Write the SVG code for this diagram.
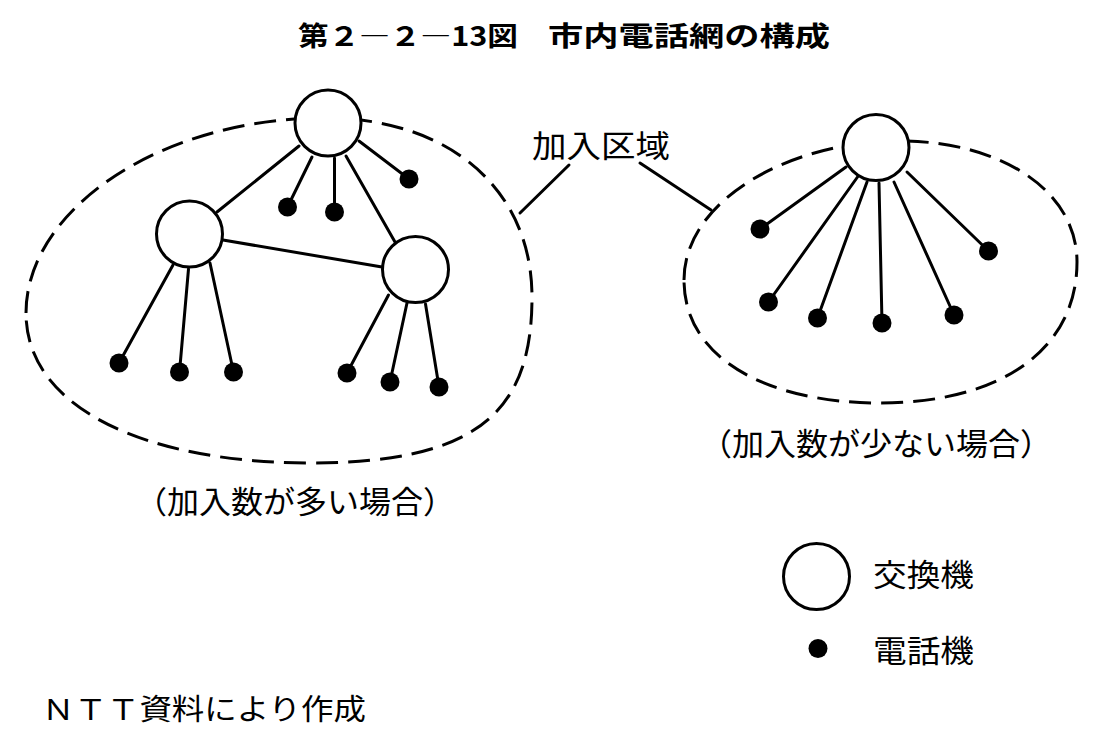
<svg xmlns="http://www.w3.org/2000/svg" width="1099" height="747" viewBox="0 0 1099 747">
<style>
.bg{fill:#fff}
.title{font-family:"Noto Sans CJK JP","Liberation Sans",sans-serif;font-weight:bold;font-size:27px;fill:#000}
.lbl{font-family:"Noto Sans CJK JP","Liberation Serif",serif;font-size:31px;fill:#000}
.foot{font-family:"Noto Sans CJK JP","Liberation Serif",serif;font-size:29px;fill:#000}
.ln{stroke:#000;stroke-width:3;fill:none;stroke-linecap:round}
.area{stroke:#000;stroke-width:3;fill:none;stroke-dasharray:22 10}
.sw{fill:#fff;stroke:#000;stroke-width:3}
.ph{fill:#000}
</style>
<rect class="bg" x="0" y="0" width="1099" height="747"/>
<g id="title">
<text class="title" x="298" y="46" textLength="220" lengthAdjust="spacingAndGlyphs">第２―２―13図</text>
<text class="title" x="548" y="46" textLength="282" lengthAdjust="spacingAndGlyphs">市内電話網の構成</text>
</g>
<g id="areas">
<path id="area-large" class="area" d="M26,313 C26,210 160,118 325,118 C450,118 532,190 532,297 C532,410 480,463 310,463 C150,463 26,410 26,313 Z"/>
<path id="area-small" class="area" d="M684,280 C684,200 790,141 900,141 C1000,141 1077,190 1077,262 C1077,350 1000,403 880,403 C770,403 684,360 684,280 Z"/>
</g>
<g id="connectors">
<line class="ln" x1="299" y1="146" x2="217" y2="212"/>
<line class="ln" x1="312" y1="157" x2="287.5" y2="207"/>
<line class="ln" x1="334.5" y1="158" x2="334.5" y2="212"/>
<line class="ln" x1="346" y1="156" x2="395" y2="242"/>
<line class="ln" x1="359" y1="141" x2="409" y2="179"/>
<line class="ln" x1="223" y1="240" x2="382" y2="267"/>
<line class="ln" x1="173" y1="265" x2="119" y2="363"/>
<line class="ln" x1="188.5" y1="269" x2="179.5" y2="372"/>
<line class="ln" x1="210" y1="263" x2="233.5" y2="372"/>
<line class="ln" x1="388.5" y1="295" x2="347" y2="373"/>
<line class="ln" x1="407" y1="303" x2="390" y2="382"/>
<line class="ln" x1="425.5" y1="304" x2="439" y2="387"/>
<line class="ln" x1="846" y1="167" x2="760" y2="229"/>
<line class="ln" x1="857.5" y1="177" x2="768.5" y2="302"/>
<line class="ln" x1="867" y1="182" x2="817.5" y2="318"/>
<line class="ln" x1="879" y1="183" x2="882" y2="323"/>
<line class="ln" x1="894" y1="182" x2="954" y2="315"/>
<line class="ln" x1="907" y1="172" x2="988.5" y2="251"/>
<line id="leader-left" class="ln" x1="569" y1="165" x2="520" y2="213"/>
<line id="leader-right" class="ln" x1="640" y1="163" x2="711" y2="210"/>
</g>
<g id="sw-top"><circle class="sw" cx="328" cy="123" r="33"/></g>
<g id="sw-left"><circle class="sw" cx="189.5" cy="234" r="33"/></g>
<g id="sw-right"><circle class="sw" cx="415.5" cy="269.5" r="33"/></g>
<g id="sw-small"><circle class="sw" cx="876" cy="147.5" r="33"/></g>
<g id="phones-large">
<circle class="ph" cx="287.5" cy="207" r="9.5"/>
<circle class="ph" cx="334.5" cy="212" r="9.5"/>
<circle class="ph" cx="409" cy="179" r="9.5"/>
<circle class="ph" cx="119" cy="363" r="9.5"/>
<circle class="ph" cx="179.5" cy="372" r="9.5"/>
<circle class="ph" cx="233.5" cy="372" r="9.5"/>
<circle class="ph" cx="347" cy="373" r="9.5"/>
<circle class="ph" cx="390" cy="382" r="9.5"/>
<circle class="ph" cx="439" cy="387" r="9.5"/>
</g>
<g id="phones-small">
<circle class="ph" cx="760" cy="229" r="9.5"/>
<circle class="ph" cx="768.5" cy="302" r="9.5"/>
<circle class="ph" cx="817.5" cy="318" r="9.5"/>
<circle class="ph" cx="882" cy="323" r="9.5"/>
<circle class="ph" cx="954" cy="315" r="9.5"/>
<circle class="ph" cx="988.5" cy="251" r="9.5"/>
</g>
<g id="label-area"><text class="lbl" x="532" y="157" textLength="138" lengthAdjust="spacingAndGlyphs">加入区域</text></g>
<g id="label-large"><text class="lbl" x="135" y="513" textLength="320" lengthAdjust="spacingAndGlyphs">（加入数が多い場合）</text></g>
<g id="label-small"><text class="lbl" x="700" y="455" textLength="352" lengthAdjust="spacingAndGlyphs">（加入数が少ない場合）</text></g>
<g id="legend">
<circle class="sw" cx="816.5" cy="576.5" r="33"/>
<text class="lbl" x="873" y="586" textLength="101" lengthAdjust="spacingAndGlyphs">交換機</text>
<circle class="ph" cx="818" cy="648.5" r="9.5"/>
<text class="lbl" x="873" y="662" textLength="101" lengthAdjust="spacingAndGlyphs">電話機</text>
</g>
<g id="source"><text class="foot" x="42" y="720" textLength="324" lengthAdjust="spacingAndGlyphs">ＮＴＴ資料により作成</text></g>
</svg>
